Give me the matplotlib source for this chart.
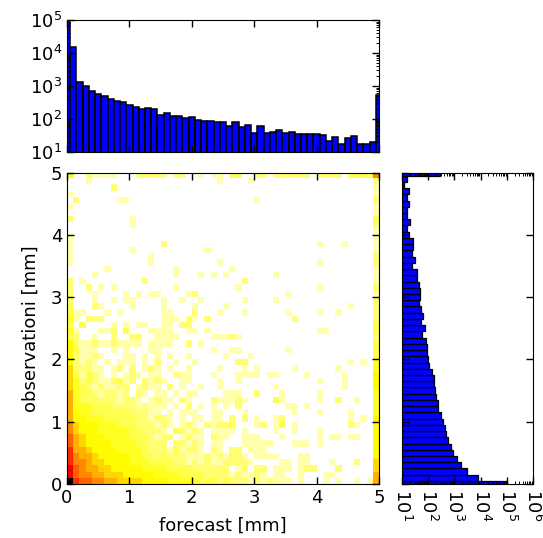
#!/usr/bin/env python3
# -*- coding: utf-8 -*-
import matplotlib
matplotlib.use('Agg')
import matplotlib.pyplot as plt
from matplotlib.colors import LogNorm
from matplotlib.ticker import LogLocator, NullFormatter
import numpy as np

# bar heights, one per bin centre 0.0, 0.1 ... 5.0
forecast_counts = [90000, 15500, 1340, 990, 700, 590, 505, 405, 345, 322,
                   275, 238, 207, 217, 203, 136, 150, 127, 127, 110,
                   118, 94, 87, 87, 80, 80, 60, 80, 56, 65,
                   38, 60, 38, 41, 48, 38, 41, 35, 35, 35,
                   35, 33, 22, 28, 17, 26, 30, 18, 17, 20, 540]
obs_counts = [98000, 7900, 2950, 1840, 1230, 910, 725, 575, 470, 430,
              380, 300, 247, 230, 195, 178, 164, 160, 134, 103,
              100, 91, 94, 86, 56, 77, 53, 64, 53, 44,
              48, 48, 44, 37, 37, 25, 30, 25, 27, 27,
              18, 16, 21, 15, 15, 18, 15, 18, 12, 16, 278]

# heatmap cells, top row first, one character per cell
code_counts = {'.': 0, '1': 1, '2': 2, '3': 3, '4': 5, '5': 8, '6': 15, '7': 30,
               '8': 60, '9': 120, 'a': 300, 'b': 800, 'c': 3000, 'd': 50000}
cell_rows = [
    "5..21 111.. .2222 2.22. .1.11 .33.. 22.22 2222. 2222. 33338",
    "...1. ..... ..... ..... ....1 ....1 ..... ..... ..... ....2",
    "..... ..2.. ..... ..... ..... ..... ..... ..... ..... ....1",
    "1.... ..... ..... ..... ..... ..... ..... ..... ..... ....1",
    ".2... ...11 ..... ..... ..... ..... 1.... ..... ..... ....2",
    "1.... ..... ..... ..... ..... ..... ..... ..... ..... ....1",
    "..... ..... ..... ..... ..... ..... ..... ..... ..... ....1",
    "2.... ..... 1.... ..... ..... ..... ..... ..... ..... ....3",
    "..... ..... 1.... ..... ..... ..... ..... ..... ..... ....2",
    "..... ..... ..... ..... ..... ..... ..... ..... ..... ....1",
    "1.... ..... ..... ..... ..... ..... ..... ..... ..... ....1",
    "1.... ..... ..... 2.... ..... ..... ..... ..... 1...1 ....1",
    "1.... ..... 1.... ..... ..1.. ..... ..... ..... ..... ....1",
    "1.... ..... ...1. ..... ..... ..... ..... ..... ..... ....2",
    "1.... ..... ...1. ..... ....1 ..... ..... ..... 1.... ....2",
    "..... .1... ..... ..1.. ..... .1... ..... ..... ..... ....1",
    "....1 ..... ..... ..1.. .1.1. 1.... ...1. ..... ..... ....1",
    "2.1.. ..... ..2.. ..... ..... ...2. ..... ..... ..... ....1",
    "2..2. 1.1.. ..... ..1.. ..... ..1.. ..... ..... 1.... ....2",
    "2...1 ....1 .1.11 ....1 2.... ..... ..... 1.... ..... ....1",
    "2...1 ..1.1 1.... 1..1. .1... ...1. ...1. ..... ..... ....2",
    "3...2 1.... 1.... 1.... 1.... 1.... ..... ..... ..... 1...2",
    "311.. .1.1. ..... 11... 2...1 ...1. ..... 1.... 1..1. ....2",
    "41.22 2.... ..... 111.2 1.2.. ..... ..... .2... ..... ....2",
    "3.3.. ..1.1 .11.. 11.22 ..... ..... ..... ..... ..... ....3",
    "41... 112.3 ...11 11..1 1.1.. ..... ..... ..... 11... ....3",
    "32..1 ..2.. 22..1 111.. ...11 121.. ..... ..... ..... ....2",
    "52112 11211 11.11 11..2 .1... ..... ..... ..... ..... ....3",
    "53111 ..1.1 ...11 ..... ...1. .11.. ..... 1.... ..... ....3",
    "52112 1...1 1.1.1 .1..1 ..... 1...1 ..... ..... ..... ....3",
    "52121 .1.11 1.1.2 ..1.. 1.... ..22. ..... ..... ..... 1.1.4",
    "62221 1.12. 2.121 .1..1 ....1 ...1. 1.... .1... ...1. ....4",
    "63132 1.1.1 21.11 ..211 ...1. ..111 1.11. ...1. ....1 ....5",
    "64232 11231 2.212 1..11 ....1 ..1.. ..... ..... 1...1 ....5",
    "64321 21122 .1211 .2.1. .1..1 ..... ...1. ..... ....1 ....5",
    "74332 12212 .21.1 1.1.1 1.... 111.. 2...1 ..... 1.... ....4",
    "74323 22212 21.12 11.21 ...21 1121. ...31 ..... 1..2. .1..4",
    "74443 33222 21211 1.1.2 .1.1. 1.2.. ..... 11.1. ..... ....4",
    "75443 33333 22211 .1.11 1..11 ...1. ..... .1... 1.... 1...4",
    "75544 43333 32212 21.1. 11.11 .2.2. 1..12 ..... ..... 1.1.5",
    "86555 44433 32221 21.12 1.212 23... 12.13 .1... ..... 21..5",
    "86555 44444 33222 1.321 21.11 11.1. ...1. .1... 1.... ....5",
    "97655 54444 33321 22.12 11.21 1..11 1...1 ..... 1.11. 11..5",
    "97655 55444 43322 2.221 21.11 ...11 111.. .111. 1.... ....5",
    "a7765 55544 44322 21312 21.21 .22.1 11... ..... ..... ....5",
    "a8776 55555 44332 32221 11212 1221. 1111. ..11. ..... ....5",
    "a8876 65555 44433 33221 21211 22221 ....1 1.11. ..1.. .2..6",
    "b9877 66555 55444 43333 22222 2.12. 22.11 1.122 ...2. ....6",
    "b9887 76665 55554 44433 33222 21211 21.11 ..1.. .11.. ....7",
    "da998 87766 66555 54444 43332 32221 21211 1.1.. .1.1. .1.17",
]

tick_vals = [0, 1, 2, 3, 4, 5]

W, H = 543.0, 538.0


def px_axes(fig, left, top, right, bottom):
    return fig.add_axes([left / W, 1 - bottom / H, (right - left) / W, (bottom - top) / H])


def style_ticks(ax):
    ax.tick_params(which='major', direction='in', length=5, width=1, top=True, right=True,
                   labelsize=13, colors='k')
    ax.tick_params(which='minor', direction='in', length=2.5, width=0.7, top=True, right=True)


def log_ticks(axis):
    axis.set_major_locator(LogLocator(base=10, numticks=10))
    axis.set_minor_locator(LogLocator(base=10, subs=np.arange(2, 10) * 0.1, numticks=10))
    axis.set_minor_formatter(NullFormatter())


grid = np.array([[code_counts[c] for c in row.replace(' ', '')] for row in cell_rows], dtype=float)
grid = np.ma.masked_equal(grid[::-1], 0)
bin_centers = np.linspace(0, 5, len(forecast_counts))

fig = plt.figure(figsize=(W / 100, H / 100), dpi=100, facecolor='w')

ax = px_axes(fig, 67, 172.5, 379, 484)
cmap = plt.get_cmap('hot_r').copy()
cmap.set_bad('w')
ax.imshow(grid, origin='lower', extent=[0, 5, 0, 5], aspect='auto', cmap=cmap,
          norm=LogNorm(vmin=0.37, vmax=50000), interpolation='nearest')
ax.set_xticks(tick_vals)
ax.set_yticks(tick_vals)
ax.set_xlabel('forecast [mm]', fontsize=13, labelpad=7)
ax.set_ylabel('observationi [mm]', fontsize=13, labelpad=8)
style_ticks(ax)

axt = px_axes(fig, 67, 20, 379, 152)
axt.bar(bin_centers, forecast_counts, width=0.1, color='b', edgecolor='k', linewidth=1.1, log=True)
axt.set_xlim(0, 5)
axt.set_ylim(10, 1e5)
axt.set_xticks(tick_vals)
axt.set_xticklabels([])
log_ticks(axt.yaxis)
style_ticks(axt)

axr = px_axes(fig, 402, 172.5, 533, 484)
axr.barh(bin_centers, obs_counts, height=0.1, color='b', edgecolor='k', linewidth=0.9, log=True)
axr.set_ylim(0, 5)
axr.set_xlim(10, 1e6)
axr.set_yticks(tick_vals)
axr.set_yticklabels([])
log_ticks(axr.xaxis)
style_ticks(axr)
for lab in axr.get_xticklabels():
    lab.set_rotation(270)

fig.savefig('out.png', dpi=100, facecolor='w')
